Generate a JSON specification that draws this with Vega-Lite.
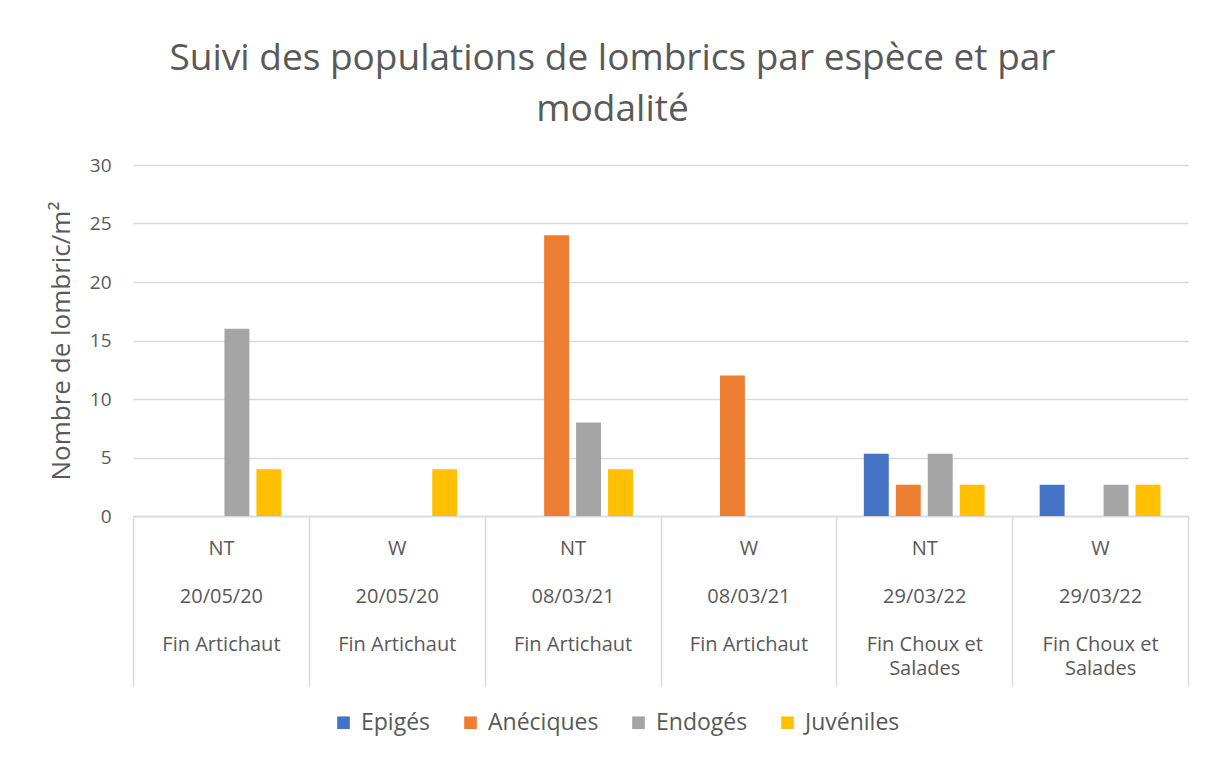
{
  "$schema": "https://vega.github.io/schema/vega-lite/v6.json",
  "width": 1055,
  "height": 351,
  "autosize": {"type": "none"},
  "padding": {"left": 133, "top": 165, "right": 27, "bottom": 245},
  "background": "white",
  "config": {
    "font": "Open Sans",
    "view": {"stroke": null}
  },
  "title": {
    "text": ["Suivi des populations de lombrics par espèce et par", "modalité"],
    "fontSize": 37,
    "fontWeight": "normal",
    "color": "#595959",
    "lineHeight": 51,
    "offset": 27,
    "dx": -48,
    "anchor": "middle"
  },
  "data": {
    "values": [
      {"groupe": "NT|20/05/20|Fin Artichaut", "espece": "Epigés", "nombre": 0},
      {"groupe": "NT|20/05/20|Fin Artichaut", "espece": "Anéciques", "nombre": 0},
      {"groupe": "NT|20/05/20|Fin Artichaut", "espece": "Endogés", "nombre": 16},
      {"groupe": "NT|20/05/20|Fin Artichaut", "espece": "Juvéniles", "nombre": 4},
      {"groupe": "W|20/05/20|Fin Artichaut", "espece": "Epigés", "nombre": 0},
      {"groupe": "W|20/05/20|Fin Artichaut", "espece": "Anéciques", "nombre": 0},
      {"groupe": "W|20/05/20|Fin Artichaut", "espece": "Endogés", "nombre": 0},
      {"groupe": "W|20/05/20|Fin Artichaut", "espece": "Juvéniles", "nombre": 4},
      {"groupe": "NT|08/03/21|Fin Artichaut", "espece": "Epigés", "nombre": 0},
      {"groupe": "NT|08/03/21|Fin Artichaut", "espece": "Anéciques", "nombre": 24},
      {"groupe": "NT|08/03/21|Fin Artichaut", "espece": "Endogés", "nombre": 8},
      {"groupe": "NT|08/03/21|Fin Artichaut", "espece": "Juvéniles", "nombre": 4},
      {"groupe": "W|08/03/21|Fin Artichaut", "espece": "Epigés", "nombre": 0},
      {"groupe": "W|08/03/21|Fin Artichaut", "espece": "Anéciques", "nombre": 12},
      {"groupe": "W|08/03/21|Fin Artichaut", "espece": "Endogés", "nombre": 0},
      {"groupe": "W|08/03/21|Fin Artichaut", "espece": "Juvéniles", "nombre": 0},
      {"groupe": "NT|29/03/22|Fin Choux et Salades", "espece": "Epigés", "nombre": 5.33},
      {"groupe": "NT|29/03/22|Fin Choux et Salades", "espece": "Anéciques", "nombre": 2.67},
      {"groupe": "NT|29/03/22|Fin Choux et Salades", "espece": "Endogés", "nombre": 5.33},
      {"groupe": "NT|29/03/22|Fin Choux et Salades", "espece": "Juvéniles", "nombre": 2.67},
      {"groupe": "W|29/03/22|Fin Choux et Salades", "espece": "Epigés", "nombre": 2.67},
      {"groupe": "W|29/03/22|Fin Choux et Salades", "espece": "Anéciques", "nombre": 0},
      {"groupe": "W|29/03/22|Fin Choux et Salades", "espece": "Endogés", "nombre": 2.67},
      {"groupe": "W|29/03/22|Fin Choux et Salades", "espece": "Juvéniles", "nombre": 2.67}
    ]
  },
  "mark": {"type": "bar"},
  "encoding": {
    "x": {
      "field": "groupe",
      "type": "nominal",
      "sort": null,
      "scale": {"paddingInner": 0, "paddingOuter": 0},
      "axis": {
        "title": null,
        "labelAngle": 0,
        "labelLimit": 0,
        "labelFontSize": 20,
        "labelColor": "#595959",
        "labelLineHeight": 24,
        "labelBaseline": "top",
        "labelPadding": -148,
        "labelExpr": "indexof(datum.label + '', '|') < 0 ? '' : [split(datum.label,'|')[0], '\u200b', split(datum.label,'|')[1], '\u200b', replace(split(datum.label,'|')[2], ' Salades', ''), indexof(datum.label, 'Salades') >= 0 ? 'Salades' : '\u200b']",
        "domainColor": "#d9d9d9",
        "domainWidth": 1.5,
        "tickColor": "#d9d9d9",
        "tickWidth": 1.5,
        "tickSize": 170,
        "tickBand": "extent",
        "grid": false
      }
    },
    "xOffset": {
      "field": "espece",
      "type": "nominal",
      "sort": ["Epigés", "Anéciques", "Endogés", "Juvéniles"],
      "scale": {"paddingInner": 0.22, "paddingOuter": 0.86}
    },
    "y": {
      "field": "nombre",
      "type": "quantitative",
      "scale": {"domain": [0, 30]},
      "axis": {
        "title": "Nombre de lombric/m²",
        "titleFontSize": 26,
        "titleFontWeight": "normal",
        "titleColor": "#595959",
        "titlePadding": 15,
        "values": [0, 5, 10, 15, 20, 25, 30],
        "labelFontSize": 19,
        "labelColor": "#595959",
        "labelPadding": 22,
        "domain": false,
        "ticks": false,
        "gridColor": "#d9d9d9",
        "gridWidth": 1.5
      }
    },
    "color": {
      "field": "espece",
      "type": "nominal",
      "scale": {
        "domain": ["Epigés", "Anéciques", "Endogés", "Juvéniles"],
        "range": ["#4472C4", "#ED7D31", "#A5A5A5", "#FFC000"]
      },
      "legend": {
        "title": null,
        "orient": "none",
        "direction": "horizontal",
        "legendX": 199,
        "legendY": 546,
        "symbolType": "square",
        "symbolSize": 160,
        "symbolStrokeWidth": 0,
        "labelFontSize": 23,
        "labelColor": "#595959",
        "columnPadding": 28,
        "labelOffset": 6
      }
    }
  }
}
